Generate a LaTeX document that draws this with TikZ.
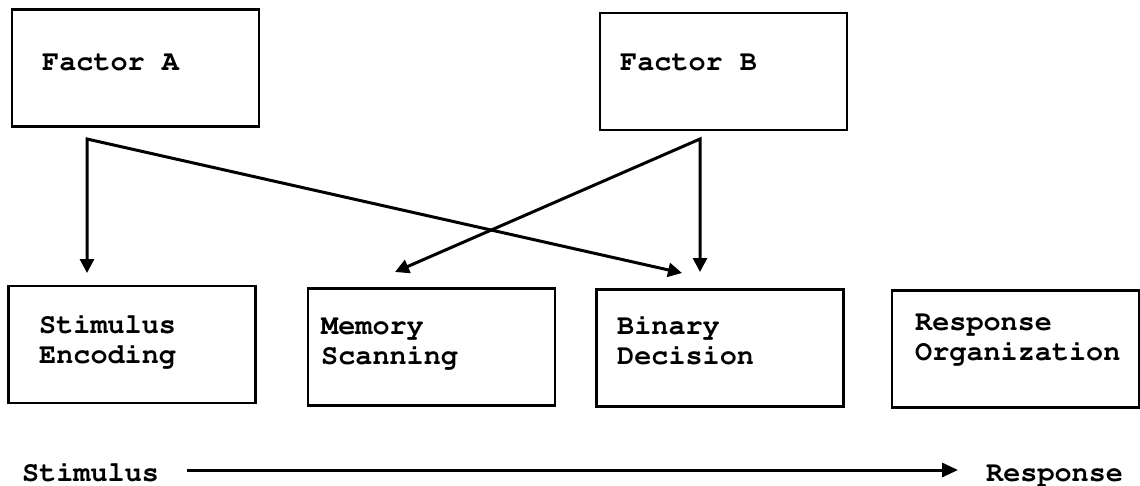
\documentclass[tikz,border=0pt]{standalone}
\usepackage[T1]{fontenc}
\usetikzlibrary{arrows.meta}
\newcommand{\courierbold}{\fontencoding{T1}\fontfamily{pcr}\fontseries{b}\fontshape{n}\fontsize{28.5}{30}\selectfont}
\tikzset{
  box/.style={draw=black, line width=2.6pt, rectangle, inner sep=0pt, minimum width=247pt, minimum height=117pt},
  lbl/.style={font=\courierbold, inner sep=0pt, align=left, anchor=base west, text=black},
  conn/.style={line width=3pt, line join=miter, {Triangle[length=14pt,width=14pt]}-{Triangle[length=14pt,width=14pt]}},
  oneway/.style={line width=3pt, -{Triangle[length=16pt,width=14pt]}}
}
\begin{document}
\begin{tikzpicture}[x=1pt,y=-1pt]
\useasboundingbox[fill=white] (0,0) rectangle (1140,485);
% top boxes
\node[box] (fa) at (135.5,68) {};
\node[box] (fb) at (723.5,71.5) {};
\node[lbl] (fatext) at (42,70) {Factor A};
\node[lbl] (fbtext) at (620,70) {Factor B};
% bottom boxes
\node[box] (se) at (132,344.5) {};
\node[box] (ms) at (431.5,347) {};
\node[box] (bd) at (720,348) {};
\node[box] (ro) at (1015.5,349) {};
\node[lbl] (setext) at (39,363) {Stimulus\\Encoding};
\node[lbl] (mstext) at (321,364) {Memory\\Scanning};
\node[lbl] (bdtext) at (617,364) {Binary\\Decision};
\node[lbl] (rotext) at (915,360) {Response\\Organization};
% connector points
\coordinate (ca) at (87,139);
\coordinate (cb) at (700,139);
\coordinate (tse) at (87,273);
\coordinate (tbda) at (682,273);
\coordinate (tms) at (395,272);
\coordinate (tbdb) at (700,272);
\draw[conn] (tse) -- (ca) -- (tbda);
\draw[conn] (tms) -- (cb) -- (tbdb);
% bottom line
\node[lbl] (stim) at (22,481) {Stimulus};
\node[lbl] (resp) at (986,481) {Response};
\coordinate (ls) at (187,470);
\coordinate (le) at (958,470);
\draw[oneway] (ls) -- (le);
\end{tikzpicture}
\end{document}
